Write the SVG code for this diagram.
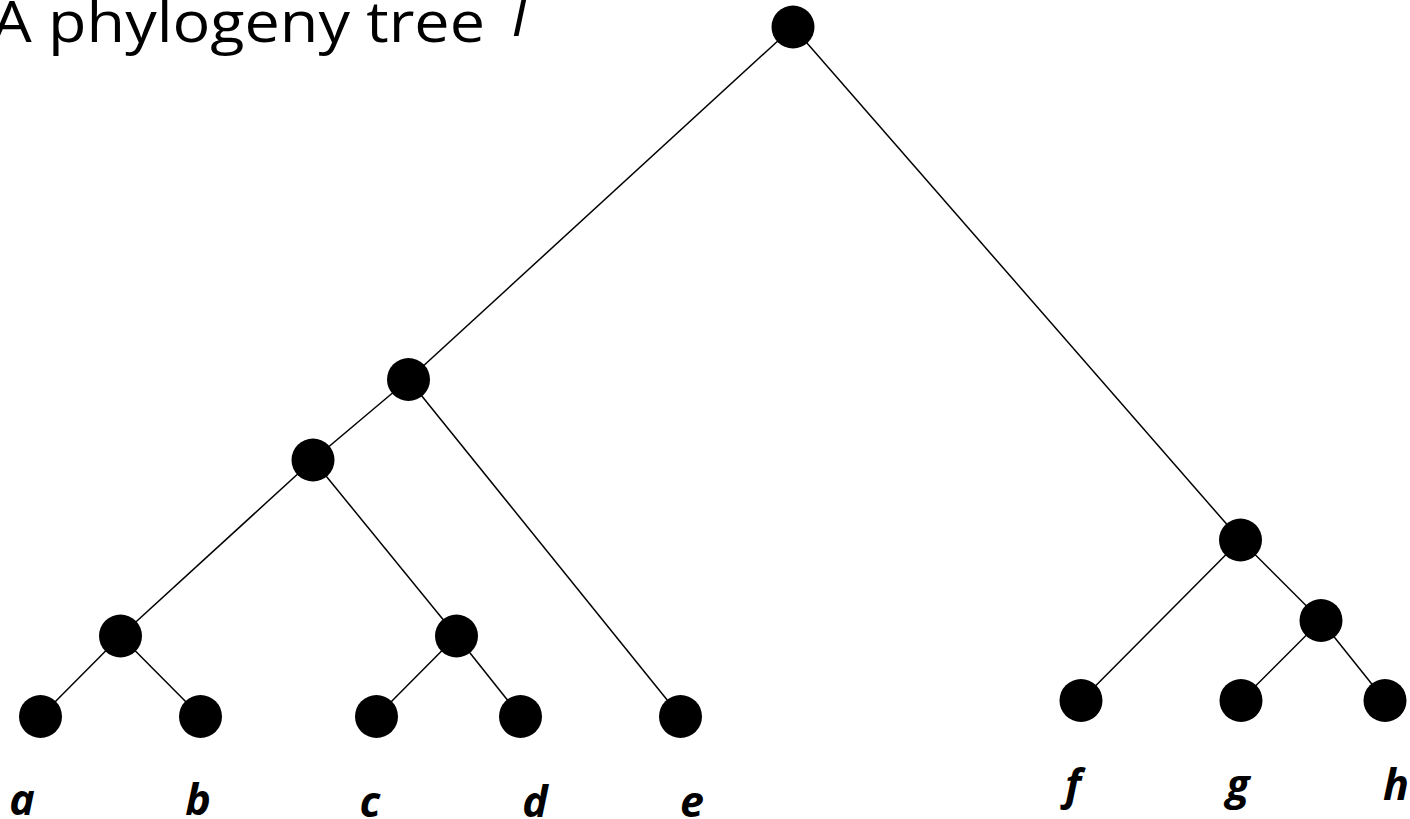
<svg xmlns="http://www.w3.org/2000/svg" width="1410" height="819" viewBox="0 0 1410 819">
<style>
.edge{stroke:#000;stroke-width:1.5;fill:none}
.node{fill:#000}
.title{font-family:"Open Sans","Liberation Sans",sans-serif;font-size:57px;fill:#000}
.leaf{font-family:"Open Sans","Liberation Sans",sans-serif;font-size:43px;font-weight:bold;font-style:italic;fill:#000;text-anchor:middle}
</style>
<rect width="1410" height="819" fill="#fff"/>
<g id="title">
<text class="title" x="-8" y="42" textLength="493" lengthAdjust="spacingAndGlyphs">A phylogeny tree</text>
<text class="title" x="505" y="36" font-size="66" font-style="italic">T</text>
</g>
<g id="connectors">
<line class="edge" x1="793" y1="27" x2="408.5" y2="379.5"/>
<line class="edge" x1="793" y1="27" x2="1240.5" y2="540"/>
<line class="edge" x1="408.5" y1="379.5" x2="313" y2="460"/>
<line class="edge" x1="408.5" y1="379.5" x2="680.5" y2="716.5"/>
<line class="edge" x1="313" y1="460" x2="120.5" y2="636"/>
<line class="edge" x1="313" y1="460" x2="456.5" y2="636"/>
<line class="edge" x1="120.5" y1="636" x2="40.5" y2="716.5"/>
<line class="edge" x1="120.5" y1="636" x2="200.5" y2="716.5"/>
<line class="edge" x1="456.5" y1="636" x2="376.5" y2="716.5"/>
<line class="edge" x1="456.5" y1="636" x2="520.5" y2="716.5"/>
<line class="edge" x1="1240.5" y1="540" x2="1081" y2="700.5"/>
<line class="edge" x1="1240.5" y1="540" x2="1321" y2="620.5"/>
<line class="edge" x1="1321" y1="620.5" x2="1241" y2="700.5"/>
<line class="edge" x1="1321" y1="620.5" x2="1385" y2="700.5"/>
</g>
<g id="root"><circle class="node" cx="793" cy="27" r="21.5"/></g>
<g id="n_abcde"><circle class="node" cx="408.5" cy="379.5" r="21.5"/></g>
<g id="n_abcd"><circle class="node" cx="313" cy="460" r="21.5"/></g>
<g id="n_ab"><circle class="node" cx="120.5" cy="636" r="21.5"/></g>
<g id="n_cd"><circle class="node" cx="456.5" cy="636" r="21.5"/></g>
<g id="n_fgh"><circle class="node" cx="1240.5" cy="540" r="21.5"/></g>
<g id="n_gh"><circle class="node" cx="1321" cy="620.5" r="21.5"/></g>
<g id="leaf_a"><circle class="node" cx="40.5" cy="716.5" r="21.5"/><text class="leaf" x="22" y="815">a</text></g>
<g id="leaf_b"><circle class="node" cx="200.5" cy="716.5" r="21.5"/><text class="leaf" x="198" y="815">b</text></g>
<g id="leaf_c"><circle class="node" cx="376.5" cy="716.5" r="21.5"/><text class="leaf" x="370" y="817">c</text></g>
<g id="leaf_d"><circle class="node" cx="520.5" cy="716.5" r="21.5"/><text class="leaf" x="535" y="817">d</text></g>
<g id="leaf_e"><circle class="node" cx="680.5" cy="716.5" r="21.5"/><text class="leaf" x="692" y="817">e</text></g>
<g id="leaf_f"><circle class="node" cx="1081" cy="700.5" r="21.5"/><text class="leaf" x="1073" y="800">f</text></g>
<g id="leaf_g"><circle class="node" cx="1241" cy="700.5" r="21.5"/><text class="leaf" x="1238" y="800">g</text></g>
<g id="leaf_h"><circle class="node" cx="1385" cy="700.5" r="21.5"/><text class="leaf" x="1396" y="800">h</text></g>
</svg>
